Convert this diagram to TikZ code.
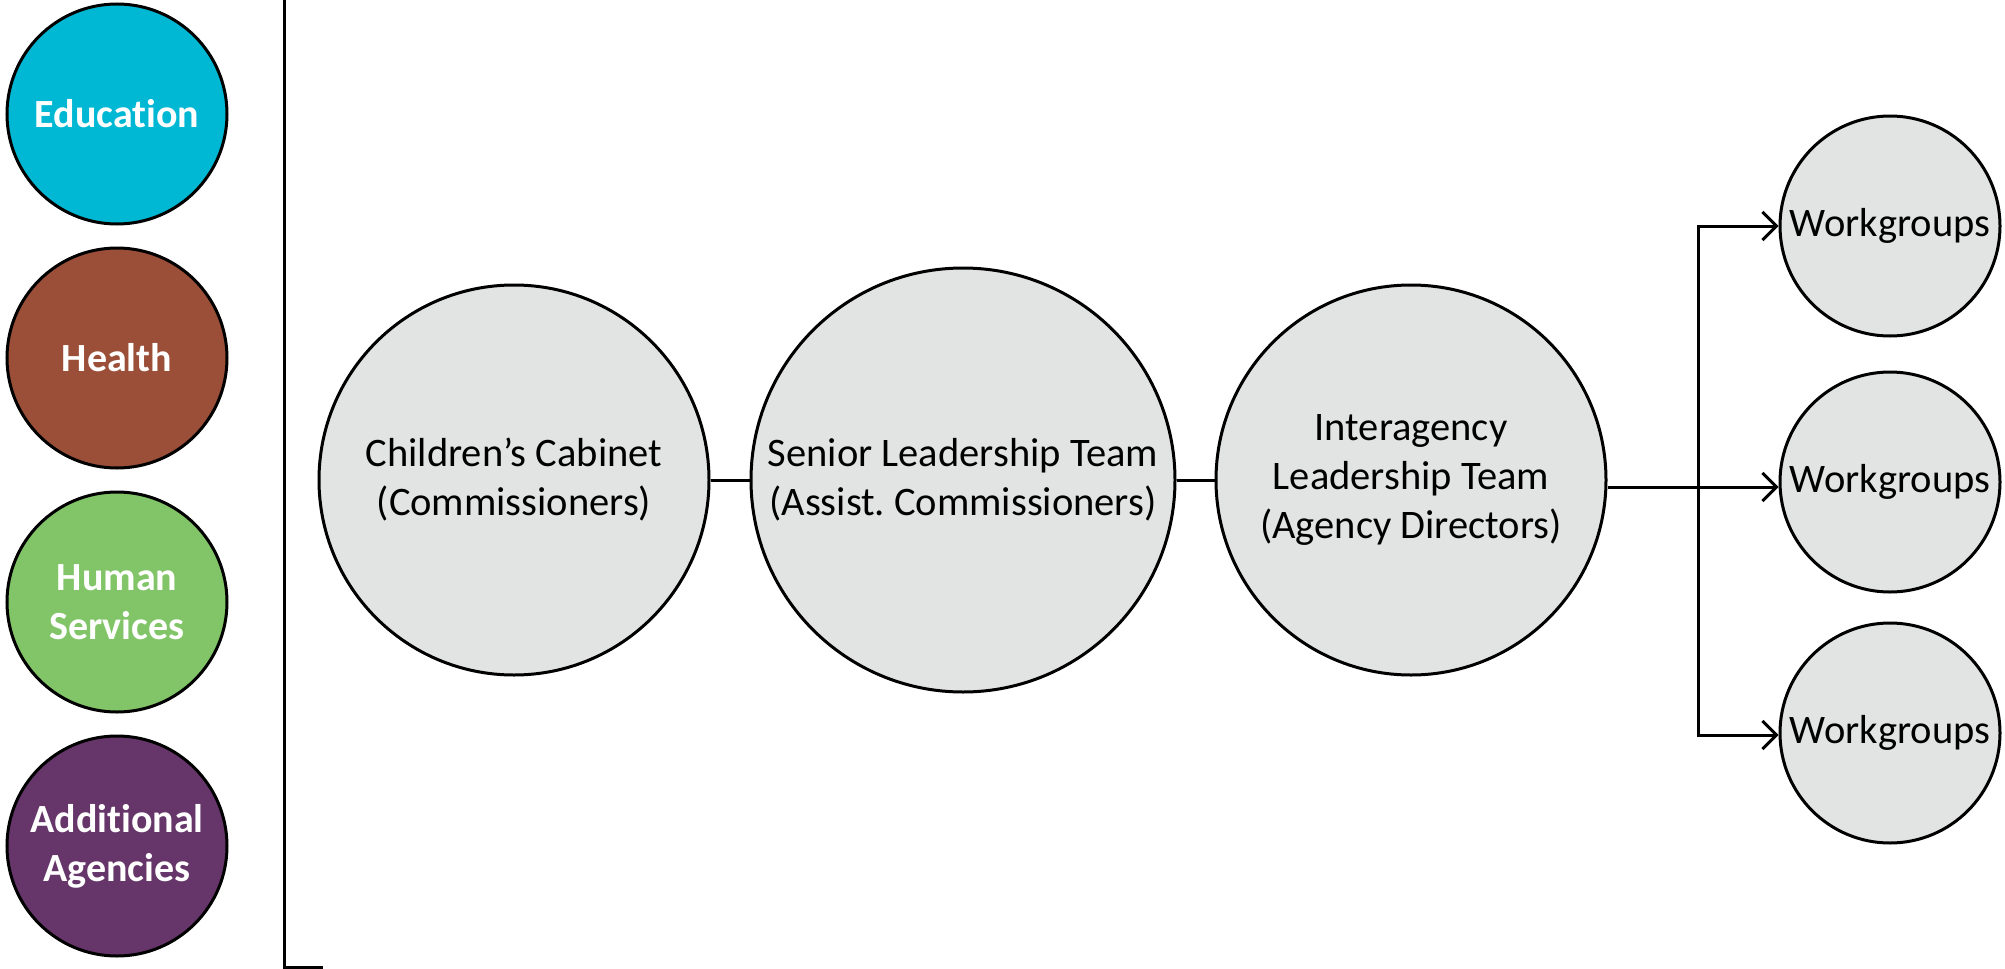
\documentclass[tikz,border=0pt]{standalone}
\usepackage{fontspec}
\setmainfont[RawFeature={-liga;-clig;-calt}]{Carlito}
\usetikzlibrary{arrows.meta}
\frenchspacing
\definecolor{cEdu}{RGB}{0,184,212}
\definecolor{cHealth}{RGB}{155,79,56}
\definecolor{cHuman}{RGB}{130,197,104}
\definecolor{cAdd}{RGB}{102,54,106}
\definecolor{cGray}{RGB}{226,228,227}
\tikzset{
  agency/.style={circle, draw=black, line width=3pt, minimum size=220pt, inner sep=0pt,
    text=white, align=center, font=\fontsize{40}{49}\selectfont\bfseries},
  team/.style={circle, draw=black, line width=3pt, fill=cGray, inner sep=0pt,
    align=center, font=\fontsize{40.5}{49}\selectfont},
  conn/.style={line width=3pt, draw=black},
  arr/.style={conn, -{Straight Barb[length=14pt,width=28pt,line width=3pt]}},
}
\begin{document}
\begin{tikzpicture}[x=1pt,y=-1pt]
\useasboundingbox (0,0) rectangle (2005,969);
% left agency circles
\node[agency, fill=cEdu] (edu) at (117,114) {Education};
\node[agency, fill=cHealth] (health) at (117,358) {Health};
\node[agency, fill=cHuman] (human) at (117,602) {Human\\Services};
\node[agency, fill=cAdd] (add) at (117,846) {Additional\\Agencies};
% bracket
\coordinate (btop) at (284,0);
\coordinate (bcorner) at (284,967);
\coordinate (bend) at (323,967);
\draw[conn] (btop) -- (bcorner) -- (bend);
% team circles
\node[team, minimum size=390pt] (cc) at (514,480) {Children’s Cabinet\\(Commissioners)};
\node[team, minimum size=424pt] (slt) at (963,480) {Senior Leadership Team\\(Assist. Commissioners)};
\node[team, minimum size=390pt] (ilt) at (1411,480) {Interagency\\Leadership Team\\(Agency Directors)};
% workgroups
\node[team, minimum size=220pt] (wg1) at (1890,226) {Workgroups};
\node[team, minimum size=220pt] (wg2) at (1890,482) {Workgroups};
\node[team, minimum size=220pt] (wg3) at (1890,733) {Workgroups};
% connectors
\draw[conn] (cc.east) -- (slt.west);
\draw[conn] (slt.east) -- (ilt.west);
\coordinate (fork) at (1698,487);
\draw[arr] (ilt.east |- fork) -- (wg2.west |- fork);
\coordinate (ftop) at (1698,226);
\coordinate (fbot) at (1698,735);
\draw[arr] (fbot) -- (ftop) -- (wg1.west);
\draw[arr] (ftop) -- (fbot) -- (wg3.west |- fbot);
\end{tikzpicture}
\end{document}
